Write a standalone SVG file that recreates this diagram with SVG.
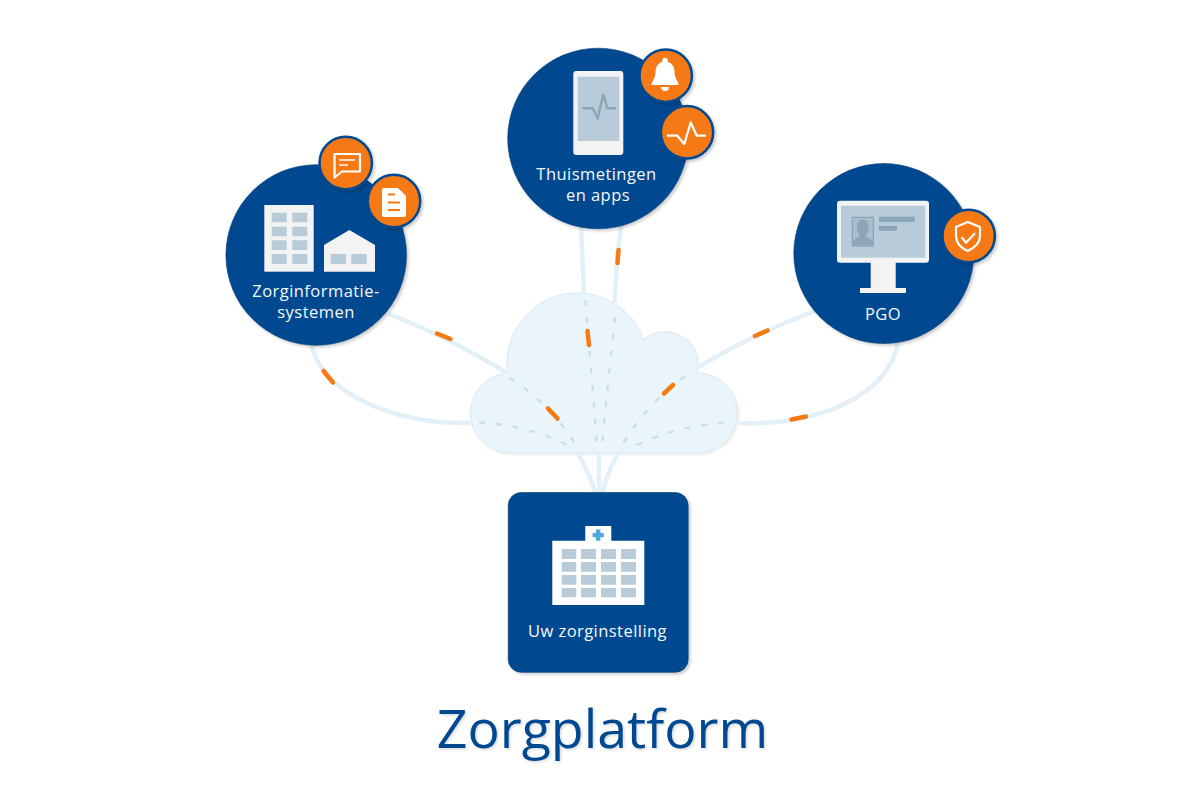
<svg xmlns="http://www.w3.org/2000/svg" width="1200" height="800" viewBox="0 0 1200 800">
<style>
text{font-family:"Open Sans","Noto Sans","Liberation Sans",sans-serif;text-anchor:middle;fill:#f4f8fb;font-size:16.5px;letter-spacing:.45px}
.title{font-size:53.7px;fill:#004990;letter-spacing:0}
.blue{fill:#004990;stroke:#003a73;stroke-width:.6}
.ring{fill:#f57a14;stroke:#004990;stroke-width:2.5}
.light{fill:#f3f3f3}
.win{fill:#b8cbd8}
.dark{fill:#8ba6b9}
.band{fill:none;stroke:#e3f0f7;stroke-width:4.5}
.dash{fill:none;stroke:#c6dfe9;stroke-width:2.2;stroke-dasharray:6 11}
.or{fill:none;stroke:#f57a14;stroke-width:4.5;stroke-linecap:round}
.ico{fill:none;stroke:#fff;stroke-width:2.2;stroke-linejoin:round}
.ol{fill:none;stroke:#f57a14;stroke-width:2}
</style>
<defs>
<filter id="sh" x="-10%" y="-10%" width="125%" height="125%"><feDropShadow dx="2" dy="2" stdDeviation="1.5" flood-color="#000" flood-opacity=".2"/></filter>
<filter id="cs" x="-5%" y="-5%" width="110%" height="110%"><feDropShadow dx="1.5" dy="1.5" stdDeviation="1" flood-color="#000" flood-opacity=".08"/></filter>
<filter id="ts" x="-5%" y="-5%" width="110%" height="115%"><feDropShadow dx="1.5" dy="1.5" stdDeviation="1" flood-color="#000" flood-opacity=".15"/></filter>
</defs>
<rect width="1200" height="800" fill="#fff"/>
<g id="cloud"><path d="M510 453A40 40 0 0 1 507.5 373.1A71 71 0 0 1 578 292.8A70 70 0 0 1 643.3 340.3A32.3 32.3 0 0 1 696.2 373A40 40 0 0 1 698.5 453Z" fill="#e9f4fb" stroke="#d3e3ec" stroke-width=".8" filter="url(#cs)"/></g>
<g id="connectors">
<path class="band" d="M311 343C322 395 395 424 470 423"/>
<path class="band" d="M389 314C430 330 470 350 507 373"/>
<path class="band" d="M581 226C582 250 583 270 584 293"/>
<path class="band" d="M621 226C618 250 616 275 614.5 303"/>
<path class="band" d="M815 311C775 326 735 345 697 368"/>
<path class="band" d="M898 343C888 395 820 426 738.5 423"/>
<path class="band" d="M578 453C586 468 592 480 595 492"/>
<path class="band" d="M599 453L599 492"/>
<path class="band" d="M618 453C610 468 605 480 603 492"/>
<path class="dash" d="M479 422.5C510 424 540 431 576 449"/>
<path class="dash" d="M510 378C530 391 555 412 576 445"/>
<path class="dash" d="M585.5 300C589 350 594 400 597 447"/>
<path class="dash" d="M615 317C611 355 606 400 602 447"/>
<path class="dash" d="M685 376C665 390 640 415 622 445"/>
<path class="dash" d="M724 422.5C695 425 665 431 633 447"/>
<path class="or" d="M323.5 371L333 382.5"/>
<path class="or" d="M437 333.5L450.5 339"/>
<path class="or" d="M548 408.5L557.5 418.5"/>
<path class="or" d="M587.5 331L589 345"/>
<path class="or" d="M618.5 250L617.5 263"/>
<path class="or" d="M755 336L767.5 330.5"/>
<path class="or" d="M673 385L664 393.5"/>
<path class="or" d="M791.5 419.5L806 416.5"/>
</g>
<g id="zorginformatiesystemen">
<circle class="blue" cx="316.2" cy="255" r="90.3" filter="url(#sh)"/>
<circle class="ring" cx="345.7" cy="163" r="26.2" filter="url(#sh)"/>
<circle class="ring" cx="394" cy="201" r="26.2" filter="url(#sh)"/>
<path class="ico" d="M334.5 154H360V171.5H342L334.5 177.5Z"/>
<path d="M339 160H355M339 165H348" fill="none" stroke="#fff" stroke-width="1.6"/>
<path d="M382 190a2 2 0 0 1 2-2H398L406 196V215a2 2 0 0 1-2 2H384a2 2 0 0 1-2-2Z" fill="#fff"/>
<path class="ol" d="M388 194.5H395M388 202.5H400M388 210H400"/>
<rect class="light" x="264.3" y="205" width="49.4" height="66.7"/>
<path class="win" d="M271.7 212.7h15v9.6h-15zM292.3 212.7h15v9.6h-15zM271.7 226.7h15v9.6h-15zM292.3 226.7h15v9.6h-15zM271.7 240.3h15v9.6h-15zM292.3 240.3h15v9.6h-15zM271.7 254h15v10h-15zM292.3 254h15v10h-15z"/>
<path class="light" d="M324 245L349.3 230L375 245V271.7H324Z"/>
<path class="win" d="M330.7 254h15.3v10h-15.3zM351.3 254h15.4v10h-15.4z"/>
<text x="316" y="297">Zorginformatie-</text>
<text x="316" y="318">systemen</text>
</g>
<g id="thuismetingen">
<circle class="blue" cx="598" cy="138.5" r="90.3" filter="url(#sh)"/>
<circle class="ring" cx="665.7" cy="75.7" r="26.2" filter="url(#sh)"/>
<circle class="ring" cx="687" cy="132.3" r="26.2" filter="url(#sh)"/>
<path d="M651.5 85C651.5 81 655.5 79 655.5 72C655.5 65 660 61.5 665 61.5C670 61.5 674.5 65 674.5 72C674.5 79 678.5 81 678.5 85Z" fill="#fff"/>
<circle cx="665" cy="60.5" r="2.7" fill="#fff"/>
<path d="M661 87h8a4 4 0 0 1-8 0Z" fill="#fff"/>
<path class="ico" d="M667 135.7H677.3L684.3 144L690.7 122.5L696.7 135.7H706"/>
<rect class="light" x="573.3" y="71" width="50" height="84" rx="3"/>
<rect class="win" x="577.7" y="76.7" width="41.6" height="64.3"/>
<path d="M582.3 108.3H592.7L597.7 118.3L603.3 94L607.3 108.3H616" fill="none" stroke="#8ba6b9" stroke-width="2.4"/>
<text x="596.5" y="179.5">Thuismetingen</text>
<text x="598" y="200.5">en apps</text>
</g>
<g id="pgo">
<circle class="blue" cx="883.8" cy="253.5" r="90" filter="url(#sh)"/>
<circle class="ring" cx="968.7" cy="236" r="26.2" filter="url(#sh)"/>
<path class="ico" d="M967.7 222L980 227V236C980 244 974 248 967.7 251C961 248 956 244 956 236V227Z"/>
<path class="ico" d="M961.7 237.3L966 242.7L975 233.3"/>
<rect class="light" x="837" y="200.7" width="92" height="62" rx="3"/>
<rect class="win" x="841" y="205.7" width="84.3" height="52"/>
<path class="light" d="M870.7 262h25v26h10.3v5h-46v-5h10.7Z"/>
<rect class="dark" x="851.7" y="216.7" width="22.3" height="30"/>
<path d="M853 218h19.7v27.5h-19.7Z" fill="#a9bfcd"/>
<path class="dark" d="M853 245.5V241C855 238 859 237.5 860 236C858 233 857 231 857 226.5C857 222 859.5 219.5 862.8 219.5C866.1 219.5 868.5 222 868.5 226.5C868.5 231 867.5 233 865.5 236C866.5 237.5 870.5 238 872.7 241V245.5Z"/>
<rect class="dark" x="879" y="216.7" width="35.7" height="5.3"/>
<rect class="dark" x="879" y="226" width="18" height="4.7"/>
<text x="883" y="320">PGO</text>
</g>
<g id="zorginstelling">
<rect class="blue" x="508.2" y="492.5" width="180" height="179.8" rx="13" filter="url(#sh)"/>
<path d="M552.3 540.7H585.3V526H611.3V540.7H644.3V605H552.3Z" fill="#fff"/>
<path d="M596 529.5h4.4v3.4h3.4v4.4h-3.4v3.4h-4.4v-3.4h-3.4v-4.4h3.4Z" fill="#4fa9dc"/>
<path class="win" d="M561.7 549h14.6v10h-14.6zM581 549h15v10h-15zM601 549h15v10h-15zM621 549h15v10h-15zM561.7 562h14.6v9.7h-14.6zM581 562h15v9.7h-15zM601 562h15v9.7h-15zM621 562h15v9.7h-15zM561.7 575h14.6v9.7h-14.6zM581 575h15v9.7h-15zM601 575h15v9.7h-15zM621 575h15v9.7h-15zM561.7 588h14.6v9.3h-14.6zM581 588h15v9.3h-15zM601 588h15v9.3h-15zM621 588h15v9.3h-15z"/>
<text x="597.5" y="636.5">Uw zorginstelling</text>
</g>
<text class="title" x="602.5" y="747.5" filter="url(#ts)">Zorgplatform</text>
</svg>
